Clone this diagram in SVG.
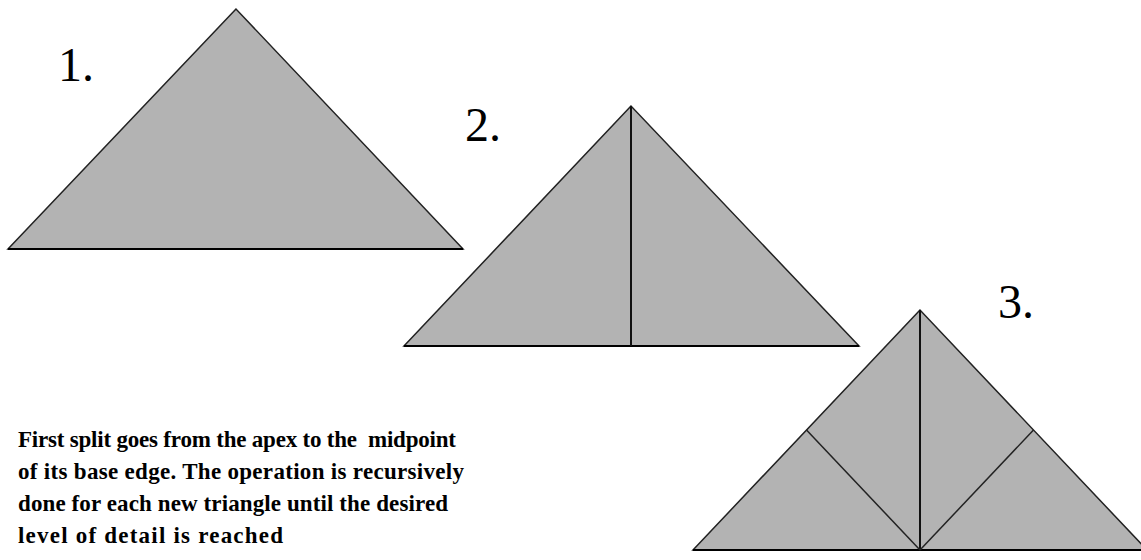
<svg xmlns="http://www.w3.org/2000/svg" width="1141" height="560" viewBox="0 0 1141 560">
<style>
.tri{fill:#b3b3b3;stroke:#222;stroke-width:1.5}
.base{stroke:#000;stroke-width:2}
.split{stroke:#111;stroke-width:2;fill:none}
.sub{stroke:#222;stroke-width:1.5;fill:none}
.num{font-family:"Liberation Serif",serif;font-size:48px;fill:#000}
.para{font-family:"Liberation Serif",serif;font-weight:bold;font-size:23px;fill:#000;white-space:pre}
</style>
<rect width="1141" height="560" fill="#fff"/>
<g id="tri1">
<polygon class="tri" points="236,9 8,249 463,249"/>
<line class="base" x1="8" y1="249" x2="463" y2="249"/>
<text class="num" x="58" y="81">1.</text>
</g>
<g id="tri2">
<polygon class="tri" points="631,106 404,346 859,346"/>
<line class="base" x1="404" y1="346" x2="859" y2="346"/>
<text class="num" x="465" y="141">2.</text>
</g>
<g id="tri3">
<polygon class="tri" points="920,310 693,550 1147,550"/>
<line class="base" x1="693" y1="550" x2="1141" y2="550"/>
<text class="num" x="998" y="318">3.</text>
</g>
<g id="connectors">
<line class="split" x1="631" y1="106" x2="631" y2="346"/>
<line class="split" x1="920" y1="310" x2="920" y2="550"/>
<line class="sub" x1="806.5" y1="430" x2="920" y2="550"/>
<line class="sub" x1="1033.5" y1="430" x2="920" y2="550"/>
</g>
<g id="caption">
<text class="para" x="18" y="447" textLength="438" lengthAdjust="spacing">First split goes from the apex to the  midpoint</text>
<text class="para" x="18" y="479" textLength="446" lengthAdjust="spacing">of its base edge. The operation is recursively</text>
<text class="para" x="18" y="511" textLength="430" lengthAdjust="spacing">done for each new triangle until the desired</text>
<text class="para" x="18" y="543" textLength="265" lengthAdjust="spacing">level of detail is reached</text>
</g>
</svg>
